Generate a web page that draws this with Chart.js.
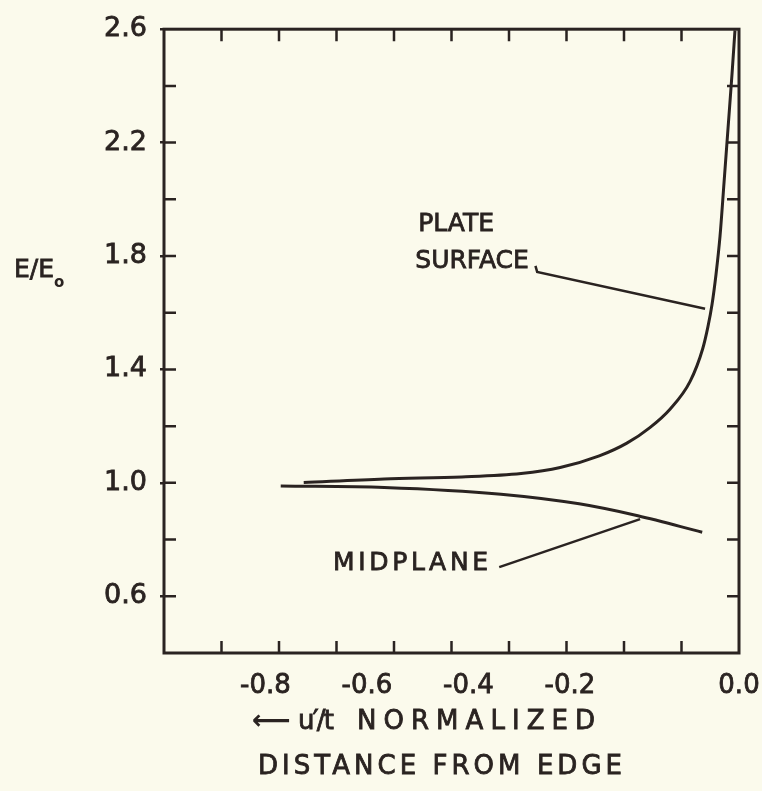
<!DOCTYPE html>
<html>
<head>
<meta charset="utf-8">
<script src="https://cdn.jsdelivr.net/npm/chart.js@4/dist/chart.umd.min.js"></script>
<style>
  html, body { margin: 0; padding: 0; background: #fbfaec; }
  #wrap { width: 762px; height: 791px; }
</style>
</head>
<body>
<div id="wrap"><canvas id="chart" width="762" height="791"></canvas></div>
<script>
const INK = "#2a2321";
const FONT = "DejaVu Sans";

// E/E0 at the plate surface vs normalized distance u'/t
const plateX = [-0.757, -0.617, -0.482, -0.379, -0.311, -0.243, -0.195, -0.155, -0.120, -0.085, -0.063, -0.054, -0.047, -0.040, -0.033, -0.026, -0.019, -0.012, -0.007];
const plateY = [1.001, 1.014, 1.021, 1.033, 1.054, 1.095, 1.140, 1.195, 1.260, 1.358, 1.474, 1.551, 1.628, 1.735, 1.870, 2.060, 2.253, 2.446, 2.596];

// E/E0 at the midplane
const midX = [-0.797, -0.617, -0.414, -0.278, -0.176, -0.064];
const midY = [0.989, 0.984, 0.960, 0.926, 0.884, 0.826];

// leader lines from the curve labels
const plateLeaderX = [-0.354, -0.351, -0.059];
const plateLeaderY = [1.765, 1.744, 1.614];
const midLeaderX = [-0.417, -0.172];
const midLeaderY = [0.703, 0.872];

// tick labels
const yTickLabels = ["0.6", "1.0", "1.4", "1.8", "2.2", "2.6"];
const xTickSlots = ["", "", "", "-0.8", "", "", "-0.6", "", "", "-0.4", "", "", "-0.2", "", "", "", "", "0.0"];

const pts = (xs, ys) => xs.map((x, i) => ({ x, y: ys[i] }));

function lineSet(xs, ys, width, smooth) {
  return {
    data: pts(xs, ys),
    borderColor: INK,
    borderWidth: width,
    pointRadius: 0,
    fill: false,
    tension: 0,
    cubicInterpolationMode: smooth ? "monotone" : "default",
    xAxisID: "x",
    yAxisID: "y",
  };
}

// lettering: filled and lightly stroked, optionally stretched to a width
function letter(ctx, text, x, y, width) {
  ctx.letterSpacing = "0px";
  if (width) {
    const w = ctx.measureText(text).width;
    ctx.letterSpacing = ((width - w) / (text.length - 1)).toFixed(2) + "px";
  }
  ctx.fillText(text, x, y);
  ctx.strokeText(text, x, y);
  ctx.letterSpacing = "0px";
}

// frame, inward ticks and the hand-lettered labels
const framePlugin = {
  id: "frame",
  afterDatasetsDraw(chart) {
    const { ctx, chartArea: a, scales } = chart;
    const x = scales.x, y = scales.y;
    ctx.save();
    ctx.strokeStyle = INK;
    ctx.lineWidth = 3;
    ctx.strokeRect(a.left, a.top, a.right - a.left, a.bottom - a.top);

    ctx.lineWidth = 2.5;
    const len = 12;
    ctx.beginPath();
    for (let v = x.min + 0.1; v < x.max - 0.01; v += 0.1) {
      const px = x.getPixelForValue(v);
      ctx.moveTo(px, a.top); ctx.lineTo(px, a.top + len);
      ctx.moveTo(px, a.bottom); ctx.lineTo(px, a.bottom - len);
    }
    for (let v = y.min + 0.2; v < y.max - 0.01; v += 0.2) {
      const py = y.getPixelForValue(v);
      ctx.moveTo(a.left, py); ctx.lineTo(a.left + len, py);
      ctx.moveTo(a.right, py); ctx.lineTo(a.right - len, py);
    }
    ctx.stroke();

    ctx.fillStyle = INK;
    ctx.lineWidth = 0.8;
    ctx.textBaseline = "middle";
    ctx.textAlign = "left";
    ctx.font = `25px "${FONT}"`;
    letter(ctx, "PLATE", x.getPixelForValue(-0.558), y.getPixelForValue(1.912));
    letter(ctx, "SURFACE", x.getPixelForValue(-0.563), y.getPixelForValue(1.779));
    letter(ctx, "MIDPLANE", x.getPixelForValue(-0.706), y.getPixelForValue(0.716), 155);

    // y axis title E/E0
    ctx.font = `25px "${FONT}"`;
    letter(ctx, "E/E", 14, 270);
    const w = ctx.measureText("E/E").width;
    ctx.font = `bold 15px "${FONT}"`;
    ctx.fillText("o", 14 + w, 283);

    // x axis title
    ctx.font = `bold 27px "${FONT}"`;
    ctx.fillText("\u27F5", 252, a.bottom + 69);
    ctx.font = `26px "${FONT}"`;
    letter(ctx, "u\u2032/t", 298, a.bottom + 69, 36);
    letter(ctx, "NORMALIZED", 357, a.bottom + 69, 238);
    letter(ctx, "DISTANCE FROM EDGE", 258, a.bottom + 114, 364);
    ctx.restore();
  },
};

new Chart(document.getElementById("chart"), {
  type: "line",
  data: {
    datasets: [
      lineSet(plateX, plateY, 3, true),
      lineSet(midX, midY, 3, true),
      lineSet(plateLeaderX, plateLeaderY, 2.5, false),
      lineSet(midLeaderX, midLeaderY, 2.5, false),
    ],
  },
  options: {
    responsive: false,
    animation: false,
    events: [],
    layout: { padding: { top: 25, right: 23, bottom: 0, left: 0 } },
    plugins: { legend: { display: false }, tooltip: { enabled: false } },
    scales: {
      x: {
        type: "linear",
        min: -1.0,
        max: 0.0,
        display: false,
      },
      xl: {
        type: "category",
        position: "bottom",
        labels: xTickSlots,
        offset: false,
        grid: { display: false, drawTicks: false },
        border: { display: false },
        ticks: {
          autoSkip: false,
          maxRotation: 0,
          padding: 18,
          color: INK,
          textStrokeColor: INK,
          textStrokeWidth: 0.8,
          font: { family: FONT, size: 26 },
        },
        afterFit: (s) => { s.height = 138; s.paddingLeft = 0; s.paddingRight = 0; },
      },
      y: {
        type: "linear",
        min: 0.4,
        max: 2.6,
        grid: {
          drawOnChartArea: false,
          drawTicks: true,
          tickLength: 4,
          lineWidth: 2.5,
          color: (c) => (c.tick && c.tick.label ? INK : "rgba(0,0,0,0)"),
        },
        border: { display: false },
        ticks: {
          stepSize: 0.2,
          padding: 13,
          color: INK,
          textStrokeColor: INK,
          textStrokeWidth: 0.8,
          font: { family: FONT, size: 27 },
          callback: (v) => (yTickLabels.includes(v.toFixed(1)) ? v.toFixed(1) : ""),
        },
        afterFit: (s) => { s.width = 164; },
      },
    },
  },
  plugins: [framePlugin],
});
</script>
</body>
</html>
